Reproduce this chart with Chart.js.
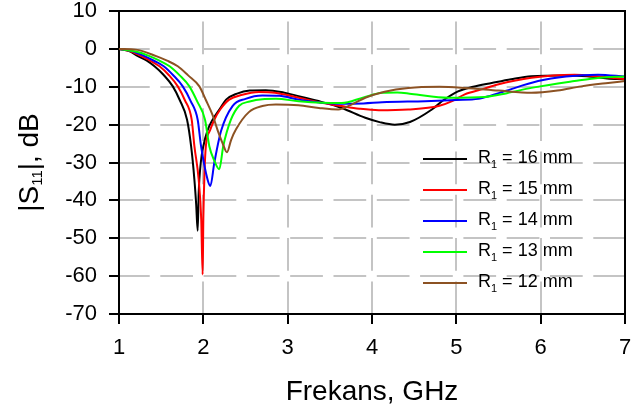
<!DOCTYPE html>
<html>
<head>
<meta charset="utf-8">
<script src="https://cdn.jsdelivr.net/npm/chart.js@4.4.1/dist/chart.umd.min.js"></script>
<style>
  html, body { margin: 0; padding: 0; background: #fff; }
</style>
</head>
<body>
<canvas id="c" width="632" height="417"></canvas>
<script>
// frequency (GHz) and |S11| (dB), one pair of arrays per R1 value
const freq16 = [1, 1.12, 1.224, 1.33, 1.421, 1.53, 1.638, 1.72, 1.807, 1.855, 1.894, 1.915, 1.933, 1.945, 1.97, 2.0, 2.05, 2.11, 2.2, 2.27, 2.4, 2.55, 2.74, 2.95, 3.13, 3.4, 3.64, 3.92, 4.1, 4.27, 4.45, 4.71, 4.85, 5.02, 5.2, 5.42, 5.65, 5.89, 6.28, 6.55, 6.79, 7];
const s11_16 = [0, -0.6, -1.9, -3.1, -4.6, -6.9, -9.9, -13.5, -18.7, -25.7, -34.5, -41, -48, -38, -30, -25.7, -21.5, -18.7, -15.7, -13.4, -11.8, -11, -10.9, -11.5, -12.5, -14, -15.6, -18.2, -19.4, -20, -19.3, -16, -13.5, -11.2, -10, -9, -8, -7.2, -7, -7.2, -7.8, -8];

const freq15 = [1, 1.12, 1.264, 1.37, 1.48, 1.59, 1.697, 1.78, 1.862, 1.894, 1.945, 1.975, 1.992, 2.0, 2.015, 2.03, 2.08, 2.13, 2.2, 2.307, 2.45, 2.66, 2.85, 3.13, 3.4, 3.64, 3.85, 4.08, 4.43, 4.79, 4.95, 5.1, 5.3, 5.49, 5.89, 6.4, 6.7, 7];
const s11_15 = [0, -0.5, -1.9, -3.1, -4.6, -6.9, -9.9, -13.5, -18.7, -25.7, -34.5, -45, -59.6, -45, -32, -25.7, -21.5, -18.7, -16, -13.4, -12.2, -11.4, -11.6, -12.9, -14.2, -15.1, -15.8, -16.2, -16, -15.1, -13.8, -12, -10.7, -9.4, -7.6, -6.8, -7.3, -8];

const freq14 = [1, 1.15, 1.303, 1.42, 1.53, 1.64, 1.756, 1.85, 1.933, 1.973, 2.05, 2.083, 2.13, 2.21, 2.346, 2.5, 2.7, 2.9, 3.13, 3.4, 3.64, 3.9, 4.12, 4.63, 5.0, 5.26, 5.4, 5.57, 5.97, 6.3, 6.68, 7];
const s11_14 = [0, -0.6, -1.9, -3.2, -4.6, -6.9, -9.9, -13.8, -18.7, -25.7, -34.5, -36.2, -30.1, -21.7, -15.1, -13.2, -12.3, -12.4, -13.4, -14.2, -14.5, -14.4, -14.1, -13.8, -13.5, -13.2, -12.4, -11.2, -8.5, -7.3, -6.8, -7.3];

const freq13 = [1, 1.2, 1.362, 1.48, 1.6, 1.72, 1.835, 1.93, 2.02, 2.071, 2.13, 2.189, 2.236, 2.327, 2.425, 2.55, 2.7, 2.86, 3.13, 3.4, 3.64, 3.9, 4.12, 4.3, 4.47, 4.91, 5.34, 5.6, 5.89, 6.4, 6.7, 7];
const s11_13 = [0, -0.7, -1.9, -3.1, -4.6, -7, -9.9, -14, -18.7, -25.7, -29.5, -31.8, -25.7, -18.7, -15, -13.9, -13.3, -13.2, -13.8, -14.2, -14.3, -12.8, -11.6, -11.5, -11.9, -12.9, -12.7, -11.7, -10.3, -8.5, -7.6, -7.3];

const freq12 = [1, 1.2, 1.441, 1.57, 1.697, 1.82, 1.953, 2.03, 2.11, 2.17, 2.23, 2.28, 2.33, 2.386, 2.54, 2.7, 2.86, 3.13, 3.37, 3.6, 3.75, 3.92, 4.15, 4.43, 4.8, 5.1, 5.5, 5.89, 6.2, 6.48, 6.8, 7];
const s11_12 = [0, -0.2, -1.9, -3.1, -4.6, -7, -9.9, -13.5, -17.5, -21.5, -25, -27.3, -24, -21.3, -16.7, -15.1, -14.7, -14.9, -15.6, -16, -14.8, -12.9, -11.3, -10.3, -10, -10.3, -11, -11.6, -11, -9.9, -9, -8.5];

const radii = [16, 15, 14, 13, 12];
const colors = ['#000000', '#ff0000', '#0000ff', '#00ff00', '#8c5223'];
const freqs = [freq16, freq15, freq14, freq13, freq12];
const s11s = [s11_16, s11_15, s11_14, s11_13, s11_12];

const xTicks = [1, 2, 3, 4, 5, 6, 7];
const yTicks = [10, 0, -10, -20, -30, -40, -50, -60, -70];

const FONT = "'Liberation Sans', Arial, sans-serif";

const datasets = radii.map((r, i) => ({
    label: 'R1 = ' + r + ' mm',
    data: freqs[i].map((f, j) => ({ x: f, y: s11s[i][j] })),
    borderColor: colors[i],
    backgroundColor: colors[i],
    borderWidth: 2,
    pointRadius: 0,
    cubicInterpolationMode: 'monotone',
    fill: false,
    order: radii.length - i
}));

// frame, legend with subscripts, y axis title
const extras = {
    id: 'extras',
    afterDraw(chart) {
        const { ctx, chartArea: a } = chart;
        ctx.save();
        ctx.strokeStyle = '#000';
        ctx.lineWidth = 2;
        ctx.beginPath();
        ctx.moveTo(a.left, a.top);
        ctx.lineTo(a.right, a.top);
        ctx.lineTo(a.right, a.bottom);
        ctx.stroke();

        // legend
        ctx.textBaseline = 'alphabetic';
        ctx.textAlign = 'left';
        radii.forEach((r, i) => {
            const y = 159 + i * 31;
            ctx.strokeStyle = colors[i];
            ctx.lineWidth = 2;
            ctx.beginPath();
            ctx.moveTo(423, y);
            ctx.lineTo(467, y);
            ctx.stroke();
            ctx.fillStyle = '#000';
            let x = 478;
            ctx.font = '18px ' + FONT;
            ctx.fillText('R', x, y + 4);
            x += ctx.measureText('R').width;
            ctx.font = '11px ' + FONT;
            ctx.fillText('1', x, y + 9);
            x += ctx.measureText('1').width;
            ctx.font = '18px ' + FONT;
            ctx.fillText(' = ' + r + ' mm', x, y + 4);
        });

        // y title |S11|, dB
        ctx.translate(28, (a.top + a.bottom) / 2);
        ctx.rotate(-Math.PI / 2);
        ctx.fillStyle = '#000';
        const big = '28px ' + FONT, small = '15px ' + FONT;
        ctx.font = big; const w1 = ctx.measureText('|S').width;
        ctx.font = small; const w2 = ctx.measureText('11').width;
        ctx.font = big; const w3 = ctx.measureText('|, dB').width;
        let x = -(w1 + w2 + w3) / 2;
        ctx.font = big; ctx.fillText('|S', x, 10); x += w1;
        ctx.font = small; ctx.fillText('11', x, 14); x += w2;
        ctx.font = big; ctx.fillText('|, dB', x, 10);
        ctx.restore();
    }
};

const gridCommon = {
    color: '#c4c4c4',
    lineWidth: 2,
    tickLength: 10,
    tickColor: '#000',
    tickWidth: 2,
    tickBorderDash: []
};

new Chart(document.getElementById('c').getContext('2d'), {
    type: 'line',
    data: { datasets },
    options: {
        responsive: false,
        devicePixelRatio: 1,
        animation: false,
        layout: { padding: 0 },
        plugins: {
            legend: { display: false },
            tooltip: { enabled: false }
        },
        scales: {
            x: {
                type: 'linear',
                min: 1,
                max: 7,
                afterBuildTicks: (s) => { s.ticks = xTicks.map(v => ({ value: v })); },
                ticks: {
                    color: '#000',
                    font: { family: FONT, size: 22 },
                    padding: 11,
                    maxRotation: 0
                },
                grid: gridCommon,
                border: { color: '#000', width: 2, dash: [32.7, 10.6], dashOffset: 32.7 },
                title: {
                    display: true,
                    text: 'Frekans, GHz',
                    color: '#000',
                    font: { family: FONT, size: 28 },
                    padding: { top: 0, bottom: 8 }
                },
                afterFit: (s) => {
                    s.height = 103;
                    s.paddingLeft = 0;
                    s.paddingRight = 7;
                }
            },
            y: {
                min: -70,
                max: 10,
                afterBuildTicks: (s) => { s.ticks = yTicks.slice().reverse().map(v => ({ value: v })); },
                ticks: {
                    color: '#000',
                    font: { family: FONT, size: 22, lineHeight: 1 },
                    padding: 12
                },
                grid: gridCommon,
                border: { color: '#000', width: 2, dash: [32.7, 10.6], dashOffset: 3 },
                afterFit: (s) => {
                    s.width = 119;
                    s.paddingTop = 11;
                    s.paddingBottom = 0;
                }
            }
        }
    },
    plugins: [extras]
});
</script>
</body>
</html>
